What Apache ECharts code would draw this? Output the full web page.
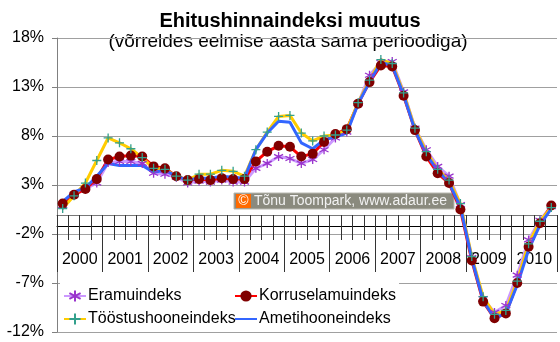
<!DOCTYPE html>
<html>
<head>
<meta charset="utf-8">
<script src="https://cdn.jsdelivr.net/npm/echarts@6/dist/echarts.min.js"></script>
<style>
  html, body { margin: 0; padding: 0; background: #fff; }
  #chart { width: 560px; height: 342px; }
</style>
</head>
<body>
<div id="chart"></div>
<script>
// Years on the category axis; each year split into four quarters
const years = ['2000', '2001', '2002', '2003', '2004', '2005', '2006', '2007', '2008', '2009', '2010'];
const quarterNames = ['I', 'II', 'III', 'IV'];
const quarters = years.flatMap(y => quarterNames.map(q => y + ' ' + q));

// Year-on-year change of the construction price index, % (quarterly)
const eramuindeks = [0.9, 2.0, 2.6, 3.2, 5.3, 5.4, 5.4, 5.2, 4.2, 4.1, 3.8, 3.2, 3.4, 3.3, 3.5, 3.3,
  3.3, 4.7, 5.2, 5.9, 5.7, 5.2, 5.6, 6.6, 7.8, 8.4, 11.3, 14.2, 15.5, 15.6, 12.5, 8.8,
  6.6, 4.9, 3.9, 1.0, -4.4, -8.6, -10.0, -9.3, -6.2, -2.6, -0.6, 0.8];
const korruselamuindeks = [1.1, 2.0, 2.6, 3.6, 5.6, 5.9, 6.0, 5.9, 4.9, 4.7, 3.9, 3.5, 3.6, 3.5, 3.7, 3.6,
  3.6, 5.4, 6.4, 7.0, 6.9, 5.9, 6.2, 7.4, 8.2, 8.7, 11.3, 13.5, 15.2, 15.1, 12.1, 8.6,
  5.9, 4.2, 3.2, 0.5, -4.7, -8.9, -10.6, -10.1, -7.0, -3.3, -0.9, 0.9];
const toostushooneindeks = [0.6, 1.9, 3.2, 5.5, 7.8, 7.3, 6.7, 5.8, 4.7, 4.6, 3.9, 3.5, 4.1, 4.1, 4.5, 4.4,
  3.9, 6.6, 8.4, 10.0, 10.1, 8.3, 7.5, 8.0, 8.1, 8.6, 11.4, 13.7, 15.8, 15.4, 12.4, 8.8,
  6.4, 4.6, 3.5, 1.1, -4.3, -8.4, -10.2, -9.8, -6.8, -3.0, -0.7, 0.7];
const ametihooneindeks = [1.3, 2.3, 2.7, 3.9, 5.2, 5.0, 5.0, 5.0, 4.3, 4.5, 3.9, 3.5, 3.7, 3.7, 3.9, 3.8,
  3.7, 6.6, 8.3, 9.5, 9.4, 7.3, 6.7, 7.6, 7.9, 8.3, 11.3, 13.5, 15.5, 15.2, 12.2, 8.6,
  6.1, 4.5, 3.2, 0.8, -4.5, -8.8, -10.6, -10.1, -7.2, -3.6, -1.1, 0.6];

const seriesNames = ['Eramuindeks', 'Korruselamuindeks', 'Tööstushooneindeks', 'Ametihooneindeks'];
const titleText = 'Ehitushinnaindeksi muutus';
const subtitleText = '(võrreldes eelmise aasta sama perioodiga)';

const FONT = '"Liberation Sans", Arial, sans-serif';
const STAR = 'path://M0,-5L0,5M-4.3,-2.5L4.3,2.5M-4.3,2.5L4.3,-2.5';
const PLUS = 'path://M0,-5L0,5M-5,0L5,0';

function lineSeries(name, data, lineColor, symbol, symbolSize, markColor, stroked) {
  return {
    name: name,
    type: 'line',
    xAxisIndex: 0,
    yAxisIndex: 0,
    data: data,
    symbol: symbol,
    symbolSize: symbolSize,
    showAllSymbol: true,
    lineStyle: { color: lineColor, width: 3 },
    itemStyle: stroked
      ? { color: markColor, borderColor: markColor, borderWidth: 1.3 }
      : { color: markColor, borderWidth: 0 },
    emphasis: { disabled: true },
    animation: false
  };
}

function legendItem(name, left, top, hideMark) {
  const leg = {
    data: [name],
    left: left,
    top: top,
    padding: 0,
    itemWidth: 22,
    itemHeight: 14,
    itemGap: 0,
    selectedMode: false,
    textStyle: { fontFamily: FONT, fontSize: 16, color: '#000', padding: [0, 0, 0, -3] }
  };
  if (hideMark) leg.itemStyle = { opacity: 0 };
  return leg;
}

const chart = echarts.init(document.getElementById('chart'), null, { renderer: 'canvas' });

chart.setOption({
  backgroundColor: '#fff',
  animation: false,
  legend: [
    legendItem(seriesNames[0], 63, 288),
    legendItem(seriesNames[1], 234, 288),
    legendItem(seriesNames[2], 63, 311),
    legendItem(seriesNames[3], 234, 311, true)
  ],
  grid: [
    { left: 57, right: 3, top: 38, bottom: 10 },
    { left: 57, right: 3, top: 215, height: 25 }
  ],
  xAxis: [
    {
      gridIndex: 0, type: 'category', data: quarters, boundaryGap: true,
      axisLine: { show: false }, axisTick: { show: false }, axisLabel: { show: false },
      splitLine: { show: false }
    },
    {
      // category axis line with quarter ticks below it
      gridIndex: 1, type: 'category', data: quarters, boundaryGap: true, position: 'bottom',
      axisLine: { show: true, onZero: true, lineStyle: { color: '#000', width: 1 } },
      axisTick: { show: true, interval: 0, length: 14, lineStyle: { color: '#333' } },
      axisLabel: { show: false }, splitLine: { show: false }
    },
    {
      // upper part of the quarter ticks
      gridIndex: 1, type: 'category', data: quarters, boundaryGap: true, position: 'top',
      axisLine: { show: true, onZero: false, lineStyle: { color: '#777', width: 1 } },
      axisTick: { show: true, inside: true, interval: 0, length: 11, lineStyle: { color: '#333' } },
      axisLabel: { show: false }, splitLine: { show: false }
    },
    {
      // year labels with long separators
      gridIndex: 1, type: 'category', data: years, boundaryGap: true, position: 'bottom',
      axisLine: { show: false, onZero: false },
      axisTick: { show: true, interval: 0, length: 32, lineStyle: { color: '#333' } },
      axisLabel: { show: true, interval: 0, margin: 12, fontFamily: FONT, fontSize: 16, color: '#000' },
      splitLine: { show: false }
    }
  ],
  yAxis: [
    {
      gridIndex: 0, type: 'value', min: -12, max: 18, interval: 5,
      axisLine: { show: true, lineStyle: { color: '#808080', width: 1 } },
      axisTick: { show: true, length: 5, lineStyle: { color: '#808080' } },
      axisLabel: { formatter: '{value}%', fontFamily: FONT, fontSize: 16, color: '#000', margin: 13 },
      splitLine: { show: true, lineStyle: { color: '#a0a0a0', width: 1 } }
    },
    {
      gridIndex: 1, type: 'value', min: -14, max: 11,
      axisLine: { show: false }, axisTick: { show: false }, axisLabel: { show: false },
      splitLine: { show: false }
    }
  ],
  graphic: [
    {
      // title block on a white panel
      type: 'group', x: 0, y: 0, z: 50,
      children: [
        { type: 'rect', shape: { x: 100, y: 29, width: 376, height: 25 }, style: { fill: '#fff' } },
        { type: 'text', x: 290, y: 21,
          style: { text: titleText, fill: '#000', font: 'bold 20px ' + FONT, align: 'center', verticalAlign: 'middle' } },
        { type: 'text', x: 288, y: 42,
          style: { text: subtitleText, fill: '#000', font: '19px ' + FONT, align: 'center', verticalAlign: 'middle' } }
      ]
    },
    {
      // legend background
      type: 'rect', x: 60, y: 279, z: 3,
      shape: { width: 339, height: 50 },
      style: { fill: '#fff' }
    },
    {
      type: 'group', x: 234, y: 193, z: 100,
      children: [
        { type: 'rect', shape: { x: 0, y: 0, width: 220, height: 16 },
          style: { fill: '#8a8a7e', stroke: '#b8b8b0', lineWidth: 1 } },
        { type: 'rect', shape: { x: 2, y: 1, width: 15, height: 14 },
          style: { fill: '#ff6a00' } },
        { type: 'text', x: 9.5, y: 8,
          style: { text: '©', fill: '#fff', font: '14px ' + FONT, align: 'center', verticalAlign: 'middle' } },
        { type: 'text', x: 20, y: 8.5,
          style: { text: 'Tõnu Toompark, www.adaur.ee', fill: '#f2f2f2', font: '14px ' + FONT, verticalAlign: 'middle' } }
      ]
    }
  ],
  series: [
    lineSeries(seriesNames[0], eramuindeks, '#cc99ff', STAR, 9, '#9933cc', true),
    lineSeries(seriesNames[1], korruselamuindeks, '#ff0000', 'circle', 10, '#800000', false),
    lineSeries(seriesNames[2], toostushooneindeks, '#ffcc00', PLUS, 9, '#33a08c', true),
    lineSeries(seriesNames[3], ametihooneindeks, '#3366ff', 'none', 0, '#0033cc', false)
  ]
});
</script>
</body>
</html>
